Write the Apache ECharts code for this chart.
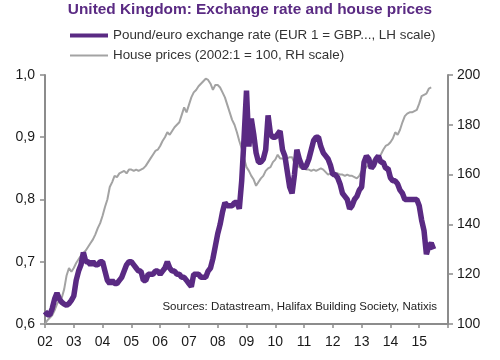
<!DOCTYPE html>
<html>
<head>
<meta charset="utf-8">
<script src="https://cdn.jsdelivr.net/npm/echarts@6/dist/echarts.min.js"></script>
<style>html,body{margin:0;padding:0;background:#fff;}#c{width:500px;height:360px;}</style>
</head>
<body>
<div id="c"></div>
<script>
var titleText = 'United Kingdom: Exchange rate and house prices';
var fxName = 'Pound/euro exchange rate (EUR 1 = GBP..., LH scale)';
var hpName = 'House prices (2002:1 = 100, RH scale)';
var sourceText = 'Sources: Datastream, Halifax Building Society, Natixis';
var startYear = 2002; // monthly data from Jan 2002
// Pound/euro exchange rate, monthly, Jan 2002 ->
var fxValues = [
  0.62, 0.615, 0.615, 0.625, 0.64, 0.65, 0.64, 0.635, 0.632, 0.63, 0.633, 0.638,
  0.645, 0.67, 0.685, 0.695, 0.715, 0.70, 0.70, 0.695, 0.70, 0.695, 0.695, 0.70,
  0.70, 0.685, 0.67, 0.665, 0.67, 0.665, 0.665, 0.67, 0.675, 0.685, 0.695, 0.70,
  0.70, 0.695, 0.69, 0.685, 0.685, 0.67, 0.67, 0.68, 0.68, 0.68, 0.685, 0.685,
  0.68, 0.685, 0.69, 0.70, 0.69, 0.685, 0.685, 0.68, 0.68, 0.675, 0.675, 0.67,
  0.665, 0.66, 0.68, 0.68, 0.68, 0.675, 0.675, 0.675, 0.685, 0.69, 0.705, 0.725,
  0.745, 0.76, 0.78, 0.795, 0.79, 0.79, 0.79, 0.795, 0.795, 0.785, 0.83, 0.90,
  0.975, 0.885, 0.93, 0.905, 0.875, 0.86, 0.86, 0.865, 0.88, 0.935, 0.905, 0.90,
  0.90, 0.905, 0.91, 0.88, 0.87, 0.845, 0.82, 0.81, 0.84, 0.88, 0.865, 0.855,
  0.85, 0.855, 0.865, 0.88, 0.895, 0.90, 0.90, 0.885, 0.875, 0.87, 0.865, 0.855,
  0.84, 0.84, 0.835, 0.825, 0.81, 0.805, 0.80, 0.785, 0.79, 0.80, 0.805, 0.815,
  0.82, 0.86, 0.87, 0.865, 0.85, 0.855, 0.865, 0.87, 0.86, 0.86, 0.85, 0.85,
  0.835, 0.83, 0.83, 0.825, 0.815, 0.81, 0.80, 0.80, 0.80, 0.80, 0.80, 0.80,
  0.79, 0.767, 0.75, 0.712, 0.725, 0.73, 0.72
];
// House prices index (2002:1 = 100), monthly, Jan 2002 ->
var hpValues = [
  100, 101.5, 102.5, 103.5, 105.5, 108, 109.5, 110.5, 114, 119.5, 122.5, 121,
  122.5, 124.5, 126, 127.5, 128.5, 129.5, 131, 132.5, 134, 136, 138.5, 140.5,
  143.5, 147, 150, 155, 157, 159.5, 159, 160.5, 161, 161.5, 160.5, 162,
  162, 161.5, 162, 161.5, 162, 162.5, 163.5, 165, 166.5, 168, 169.5, 170,
  171.5, 173.5, 175, 177, 176, 177.5, 179, 180, 181, 184, 187, 185,
  188, 191, 193, 194, 195.5, 196.5, 197.5, 198.5, 198, 196.5, 194, 196,
  196, 195, 193, 191, 188, 185, 182, 180, 177, 173.5, 170.5, 166.5,
  163, 161.5, 159.5, 158, 155.5, 157, 158.5, 159.5, 161.5, 162.5, 163, 165,
  166, 168, 166.5, 166.5, 166, 166.5, 167, 167, 164.5, 164, 163, 162.5,
  162.5, 162, 162, 161.5, 162, 161.5, 162, 162.5, 162, 161, 160, 160.5,
  160, 160.5, 160.5, 160, 160, 159.5, 160, 159.5, 159.5, 159, 158.5, 159.5,
  161.5, 162, 163, 164, 165, 166, 166.5, 167, 168, 170, 171.5, 172,
  173, 174.5, 177, 176, 178, 181, 183.5, 184.5, 185, 185, 185.5, 186,
  188.5, 191.5, 192, 192.5, 194.5, 195
];
var leftTicks = [0.6, 0.7, 0.8, 0.9, 1.0];
var rightTicks = [100, 120, 140, 160, 180, 200];
var yearTicks = [2002, 2003, 2004, 2005, 2006, 2007, 2008, 2009, 2010, 2011, 2012, 2013, 2014, 2015];

function toPairs(vals) {
  return vals.map(function (v, i) { return [startYear + i / 12, v]; });
}

var purple = '#5a2a83';
var gray = '#a3a3a3';
var axisGray = '#8c8c8c';
var txt = '#1a1a1a';
var font = 'Liberation Sans, Arial, sans-serif';

var chart = echarts.init(document.getElementById('c'), null, {renderer: 'canvas'});
chart.setOption({
  animation: false,
  backgroundColor: '#fff',
  textStyle: {fontFamily: font},
  title: {
    text: titleText,
    left: 'center',
    top: -3,
    textStyle: {color: purple, fontSize: 15.4, fontWeight: 'bold', fontFamily: font}
  },
  legend: {
    orient: 'vertical',
    left: 65,
    top: 24,
    itemWidth: 38,
    itemHeight: 12,
    itemGap: 7,
    textStyle: {color: '#333', fontSize: 13.4, fontFamily: font},
    data: [
      {name: fxName, icon: 'path://M0,0M0,12M0,3.8L40,3.8L40,8.2L0,8.2Z', itemStyle: {color: purple}},
      {name: hpName, icon: 'path://M0,0M0,12M0,5L40,5L40,7L0,7Z', itemStyle: {color: gray}}
    ]
  },
  grid: {left: 45, right: 52, top: 75, bottom: 36, containLabel: false},
  xAxis: {
    type: 'value',
    min: 2002,
    max: 2016,
    interval: 1,
    axisLine: {lineStyle: {color: axisGray, width: 2}},
    axisTick: {show: true, inside: false, length: 4, lineStyle: {color: axisGray, width: 1.5}},
    splitLine: {show: false},
    axisLabel: {
      color: txt, fontSize: 14, margin: 11,
      formatter: function (v) { return yearTicks.indexOf(v) >= 0 ? String(v).slice(2) : ''; }
    }
  },
  yAxis: [
    {
      type: 'value',
      min: leftTicks[0],
      max: leftTicks[leftTicks.length - 1],
      interval: 0.1,
      position: 'left',
      axisLine: {show: true, lineStyle: {color: axisGray, width: 2}},
      axisTick: {show: true, length: 5, lineStyle: {color: axisGray, width: 1.5}},
      splitLine: {show: false},
      axisLabel: {color: txt, fontSize: 14, margin: 10,
        formatter: function (v) { return v.toFixed(1).replace('.', ','); }}
    },
    {
      type: 'value',
      min: rightTicks[0],
      max: rightTicks[rightTicks.length - 1],
      interval: 20,
      position: 'right',
      axisLine: {show: true, lineStyle: {color: axisGray, width: 2}},
      axisTick: {show: true, length: 5, lineStyle: {color: axisGray, width: 1.5}},
      splitLine: {show: false},
      axisLabel: {color: txt, fontSize: 14, margin: 9}
    }
  ],
  graphic: [{
    type: 'text',
    right: 63,
    top: 301,
    style: {text: sourceText, fill: '#222', fontSize: 11.5, fontFamily: font}
  }],
  series: [
    {
      name: hpName,
      type: 'line',
      yAxisIndex: 1,
      showSymbol: false,
      symbol: 'none',
      data: toPairs(hpValues),
      lineStyle: {color: gray, width: 2},
      itemStyle: {color: gray},
      z: 2
    },
    {
      name: fxName,
      type: 'line',
      yAxisIndex: 0,
      showSymbol: false,
      symbol: 'none',
      data: toPairs(fxValues),
      lineStyle: {color: purple, width: 5.5},
      itemStyle: {color: purple},
      z: 3
    }
  ]
});
</script>
</body>
</html>
